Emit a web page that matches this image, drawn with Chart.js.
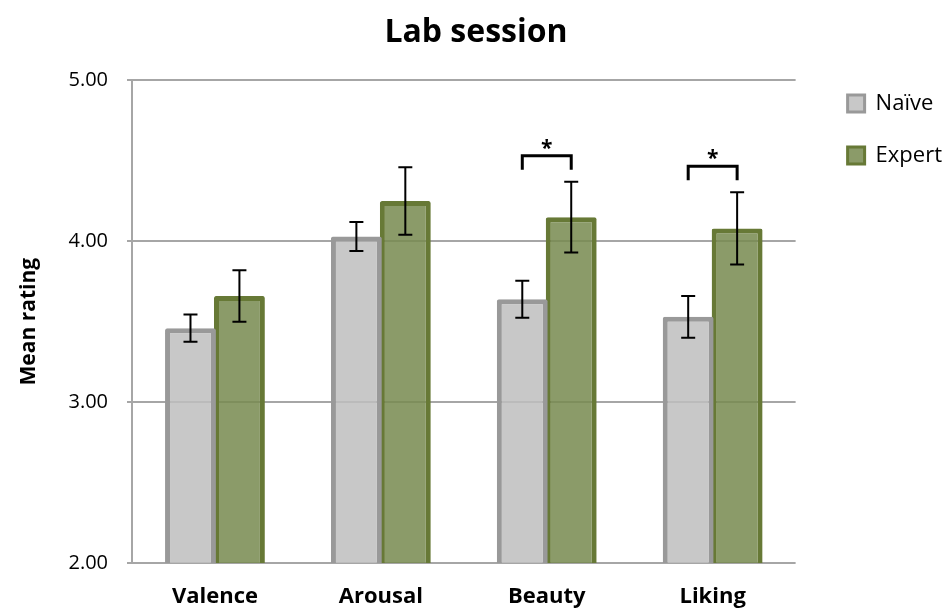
<!DOCTYPE html>
<html>
<head>
<meta charset="utf-8">
<title>Lab session</title>
<script src="https://cdn.jsdelivr.net/npm/chart.js@4.4.1/dist/chart.umd.min.js"></script>
<style>
  html, body { margin: 0; padding: 0; background: #fff; }
  #wrap { width: 948px; height: 609px; }
</style>
</head>
<body>
<div id="wrap"><canvas id="labChart"></canvas></div>
<script>
// Mean ratings per measure, with error bar half-widths
var categories = ["Valence", "Arousal", "Beauty", "Liking"];
var naiveMeans = [3.46, 4.03, 3.64, 3.53];
var naiveErr = [0.085, 0.09, 0.115, 0.13];
var expertMeans = [3.66, 4.25, 4.15, 4.08];
var expertErr = [0.16, 0.21, 0.22, 0.225];
var yTicks = [2, 3, 4, 5];
// categories where naive vs expert differ significantly
var significant = ["Beauty", "Liking"];

var FONT = "'Open Sans', 'DejaVu Sans', sans-serif";

// Error bars drawn on top of each bar
var errorBars = {
  id: 'errorBars',
  afterDatasetsDraw: function(chart) {
    var ctx = chart.ctx;
    var y = chart.scales.y;
    ctx.save();
    ctx.strokeStyle = '#000';
    ctx.lineWidth = 2;
    chart.data.datasets.forEach(function(ds, i) {
      var meta = chart.getDatasetMeta(i);
      meta.data.forEach(function(bar, j) {
        var top = y.getPixelForValue(ds.data[j] + ds.errors[j]);
        var bot = y.getPixelForValue(ds.data[j] - ds.errors[j]);
        ctx.beginPath();
        ctx.moveTo(bar.x, top); ctx.lineTo(bar.x, bot);
        ctx.moveTo(bar.x - 7, top); ctx.lineTo(bar.x + 7, top);
        ctx.moveTo(bar.x - 7, bot); ctx.lineTo(bar.x + 7, bot);
        ctx.stroke();
      });
    });
    ctx.restore();
  }
};

// Significance brackets with an asterisk
var sigBrackets = {
  id: 'sigBrackets',
  afterDatasetsDraw: function(chart) {
    var ctx = chart.ctx;
    var y = chart.scales.y;
    var a = chart.getDatasetMeta(0), b = chart.getDatasetMeta(1);
    ctx.save();
    ctx.strokeStyle = '#000';
    ctx.lineWidth = 3;
    ctx.fillStyle = '#000';
    ctx.font = 'bold 21px ' + FONT;
    ctx.textAlign = 'center';
    ctx.textBaseline = 'middle';
    significant.forEach(function(cat) {
      var j = categories.indexOf(cat);
      var hi = Math.max(naiveMeans[j] + naiveErr[j], expertMeans[j] + expertErr[j]);
      var legBottom = y.getPixelForValue(hi) - 12;
      var legTop = legBottom - 14;
      var x1 = a.data[j].x, x2 = b.data[j].x;
      ctx.beginPath();
      ctx.moveTo(x1, legBottom);
      ctx.lineTo(x1, legTop);
      ctx.lineTo(x2, legTop);
      ctx.lineTo(x2, legBottom);
      ctx.stroke();
      ctx.fillText('*', (x1 + x2) / 2, legTop - 7);
    });
    ctx.restore();
  }
};

// Move the legend beside the top of the plot and center the title on the page
var placeBoxes = {
  id: 'placeBoxes',
  afterLayout: function(chart) {
    var area = chart.chartArea;
    var lg = chart.legend;
    var pad = lg.options.labels.padding;
    var h = lg.bottom - lg.top;
    lg.left = area.right + 52 - pad;
    lg.right = chart.width;
    lg.width = lg.right - lg.left;
    lg.top = area.top + 12 - pad;
    lg.bottom = lg.top + h;
    var t = chart.titleBlock;
    t.left = 4;
    t.right = chart.width;
  }
};

var ctx = document.getElementById('labChart').getContext('2d');
var labChart = new Chart(ctx, {
  type: 'bar',
  data: {
    labels: categories,
    datasets: [{
      label: 'Na\u00efve',
      data: naiveMeans,
      errors: naiveErr,
      // slightly see-through so gridlines show inside the bars
      backgroundColor: 'rgba(190,190,190,0.85)',
      borderColor: '#999999',
      borderWidth: 5,
      borderRadius: 2
    }, {
      label: 'Expert',
      data: expertMeans,
      errors: expertErr,
      backgroundColor: 'rgba(119,137,79,0.85)',
      borderColor: '#677936',
      borderWidth: 5,
      borderRadius: 2
    }]
  },
  options: {
    responsive: true,
    maintainAspectRatio: false,
    animation: false,
    datasets: {
      bar: { categoryPercentage: 0.59, barPercentage: 1.04 }
    },
    layout: { padding: { left: 0, right: 18, top: 0, bottom: 0 } },
    plugins: {
      title: {
        display: true,
        text: 'Lab session',
        color: '#000',
        font: { family: FONT, size: 32, weight: 'bold' },
        padding: { top: 14, bottom: 28 }
      },
      legend: {
        position: 'right',
        align: 'start',
        labels: {
          color: '#000',
          font: { family: FONT, size: 22 },
          boxWidth: 17,
          boxHeight: 17,
          padding: 30,
          generateLabels: function(chart) {
            var items = Chart.defaults.plugins.legend.labels.generateLabels(chart);
            items.forEach(function(it) { it.lineWidth = 3; });
            return items;
          }
        }
      },
      tooltip: { enabled: false }
    },
    scales: {
      x: {
        grid: { display: false },
        border: { display: false },
        ticks: {
          color: '#000',
          padding: 13,
          font: { family: FONT, size: 22, weight: 'bold' }
        },
        afterFit: function(scale) { scale.height = 46; }
      },
      y: {
        min: 2,
        max: 5,
        afterBuildTicks: function(scale) {
          scale.ticks = yTicks.map(function(v) { return { value: v }; });
        },
        grid: { color: '#a6a6a6', lineWidth: 2, tickLength: 5 },
        border: { color: '#a6a6a6', width: 2 },
        ticks: {
          color: '#000',
          padding: 19,
          font: { family: FONT, size: 20 },
          callback: function(v) { return Number(v).toFixed(2); }
        },
        title: {
          display: true,
          text: 'Mean rating',
          color: '#000',
          padding: { top: 16, bottom: 0 },
          font: { family: FONT, size: 21, weight: 'bold' }
        },
        afterFit: function(scale) { scale.width = 132; }
      }
    }
  },
  plugins: [errorBars, sigBrackets, placeBoxes]
});
</script>
</body>
</html>
